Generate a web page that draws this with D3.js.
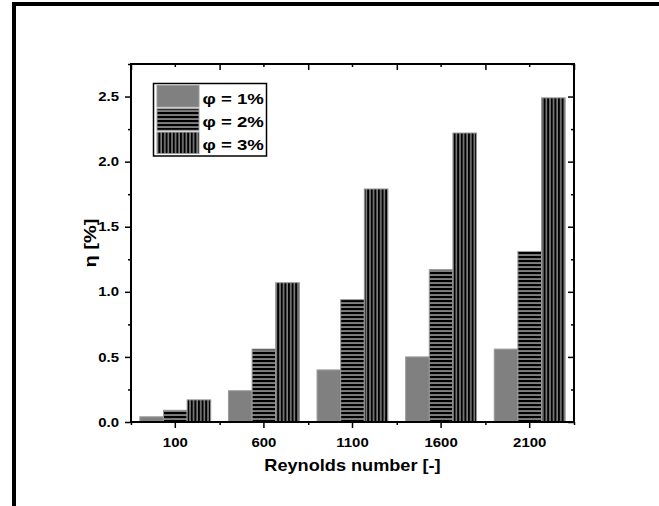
<!DOCTYPE html>
<html><head><meta charset="utf-8">
<script src="https://cdn.jsdelivr.net/npm/d3@7"></script>
<style>body{margin:0;background:#fff;} svg{display:block;}</style>
</head><body>
<svg id="c" width="659" height="506"></svg>
<script>
const categories = ["100", "600", "1100", "1600", "2100"];
const seriesNames = ["φ = 1%", "φ = 2%", "φ = 3%"];
const phi1 = [0.04, 0.24, 0.40, 0.50, 0.56];
const phi2 = [0.09, 0.56, 0.94, 1.17, 1.31];
const phi3 = [0.17, 1.07, 1.79, 2.22, 2.49];
const yTicks = [0, 0.5, 1.0, 1.5, 2.0, 2.5];
const yMinor = [0.25, 0.75, 1.25, 1.75, 2.25, 2.75];
const series = [phi1, phi2, phi3];

const svg = d3.select("#c");
const L = 131, R = 574, T = 64, B = 422;
const fontF = "Liberation Sans, Arial, sans-serif";

const defs = svg.append("defs");
const ph = defs.append("pattern").attr("id","ph").attr("patternUnits","userSpaceOnUse").attr("width",4).attr("height",4);
ph.append("rect").attr("width",4).attr("height",4).attr("fill","#808080");
ph.append("rect").attr("y",0).attr("width",4).attr("height",2.1).attr("fill","#000");
const pv = defs.append("pattern").attr("id","pv").attr("patternUnits","userSpaceOnUse").attr("width",3.6).attr("height",4);
pv.append("rect").attr("width",3.6).attr("height",4).attr("fill","#808080");
pv.append("rect").attr("x",0).attr("width",2).attr("height",4).attr("fill","#000");
const fills = ["#808080", "url(#ph)", "url(#pv)"];

// outer frame
svg.append("line").attr("x1",12).attr("x2",659).attr("y1",4).attr("y2",4).attr("stroke","#000").attr("stroke-width",4);
svg.append("line").attr("x1",14).attr("x2",14).attr("y1",2).attr("y2",506).attr("stroke","#000").attr("stroke-width",4);

const x = d3.scaleBand().domain(categories).range([L, R]).paddingInner(0).paddingOuter(0);
const xs = d3.scaleBand().domain([0,1,2]).range([0, x.bandwidth()*0.8]);
const y = d3.scaleLinear().domain([0, 2.75]).range([B, T]);

// bars
categories.forEach((c, i) => {
  series.forEach((s, k) => {
    svg.append("rect")
      .attr("x", x(c) + x.bandwidth()*0.1 + xs(k))
      .attr("y", y(s[i]))
      .attr("width", xs.bandwidth())
      .attr("height", y(0) - y(s[i]))
      .attr("fill", fills[k])
      .attr("stroke", "#9a9a9a").attr("stroke-width", 1);
  });
});

const boundaries = d3.range(categories.length + 1).map(i => L + i * x.bandwidth());
const xLin = d3.scaleLinear().domain([L, R]).range([L, R]);
const ax = g => g.selectAll(".domain").remove();
function tickStyle(g){ g.selectAll("line").attr("stroke","#000").attr("stroke-width",1.5); g.selectAll("text").remove(); }

function label(px, py, txt, size, sx, anchor, rot){
  svg.append("text")
    .attr("transform", `translate(${px},${py})` + (rot ? ` rotate(${rot})` : "") + ` scale(${sx},1)`)
    .attr("text-anchor", anchor)
    .attr("font-family", fontF).attr("font-weight","bold").attr("font-size", size + "px")
    .attr("fill","#000").text(txt);
}

// bottom
svg.append("g").attr("transform",`translate(0,${B})`).call(d3.axisBottom(x).tickSize(6).tickSizeOuter(0)).call(ax).call(tickStyle);
svg.append("g").attr("transform",`translate(0,${B})`).call(d3.axisBottom(xLin).tickValues(boundaries).tickSize(3).tickFormat("")).call(ax).call(tickStyle);
categories.forEach(c => label(x(c) + x.bandwidth()/2, 446.5, c, 13, 1.15, "middle"));
// top
svg.append("g").attr("transform",`translate(0,${T})`).call(d3.axisBottom(xLin).tickValues(boundaries).tickSize(6).tickFormat("")).call(ax).call(tickStyle);
svg.append("g").attr("transform",`translate(0,${T})`).call(d3.axisBottom(x).tickSize(3).tickFormat("")).call(ax).call(tickStyle);
// left
svg.append("g").attr("transform",`translate(${L},0)`).call(d3.axisLeft(y).tickValues(yTicks).tickSize(6)).call(ax).call(tickStyle);
svg.append("g").attr("transform",`translate(${L},0)`).call(d3.axisLeft(y).tickValues(yMinor).tickSize(3).tickFormat("")).call(ax).call(tickStyle);
yTicks.forEach(v => label(119, y(v) + 4.6, d3.format(".1f")(v), 13, 1.15, "end"));
// right
svg.append("g").attr("transform",`translate(${R},0)`).call(d3.axisRight(y).tickValues(yTicks).tickSize(-6).tickFormat("")).call(ax).call(tickStyle);
svg.append("g").attr("transform",`translate(${R},0)`).call(d3.axisRight(y).tickValues(yMinor).tickSize(-3).tickFormat("")).call(ax).call(tickStyle);

// frame
svg.append("rect").attr("x",L).attr("y",T).attr("width",R-L).attr("height",B-T).attr("fill","none").attr("stroke","#000").attr("stroke-width",2);

// titles
label((L+R)/2, 471, "Reynolds number [-]", 16.5, 1.1, "middle");
label(96, (T+B)/2, "η [%]", 16, 1.25, "middle", -90);

// legend
const lg = svg.append("g");
lg.append("rect").attr("x",153.5).attr("y",83.5).attr("width",113).attr("height",72.5).attr("fill","#fff").attr("stroke","#000").attr("stroke-width",1.5);
seriesNames.forEach((n, k) => {
  const yy = 85.5 + k*23.3;
  lg.append("rect").attr("x",157).attr("y",yy).attr("width",42).attr("height",21.5).attr("fill",fills[k]).attr("stroke","#9a9a9a").attr("stroke-width",1);
  label(202.5, yy + 18, n, 15.5, 1.2, "start");
});
</script>
</body></html>
